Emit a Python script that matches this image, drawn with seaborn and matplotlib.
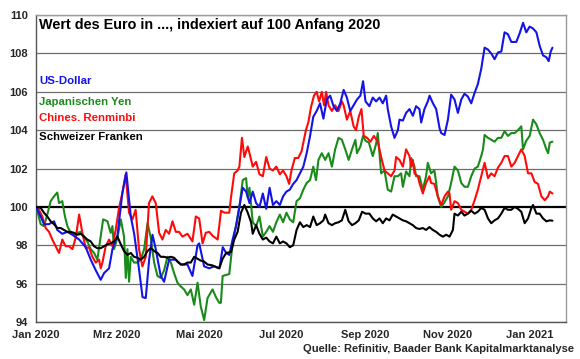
import numpy as np
import pandas as pd
import matplotlib
matplotlib.use("Agg")
import matplotlib.pyplot as plt
import seaborn as sns

# ---- data: (day offset from 1 Jan 2020, index value, start 2020 = 100) ----
usd = [(0, 100), (3.5, 99.5), (6, 99.1), (9.6, 99.1), (13.4, 99.25), (15.8, 98.8), (19.5, 98.6), (23.3, 98.7),
       (27, 98.55), (32, 98.3), (36.9, 97.9), (40.6, 97.25), (44.3, 96.7), (48, 96.2), (50.5, 96.55), (54.2, 96.8),
       (56.7, 97.8), (60.4, 98.5), (64, 100.7), (67, 101.8), (70.3, 99.5), (72.8, 98.6), (76.5, 96.7), (79, 95.3),
       (81.4, 95.25), (83.9, 97.25), (86.4, 98.55), (88.8, 97.8), (92.5, 96.4), (95, 96.1), (98.7, 97.25),
       (103.7, 97.25), (107.4, 97.0), (112.3, 97.0), (116, 96.4), (119.8, 98.0), (121, 98.1), (124.7, 96.9),
       (128.4, 96.8), (132, 96.9), (136, 96.8), (138.5, 97.9), (141, 97.6), (143.3, 97.5), (145.8, 98.3),
       (148.3, 99.0), (150.8, 100.0), (153.3, 101.0), (155.8, 100.8), (158.3, 100.2), (160.7, 100.8),
       (163.2, 100.2), (165.7, 100.0), (168.2, 100.7), (170.7, 99.9), (173.2, 101.0), (175.7, 100.1),
       (178.2, 100.3), (180.8, 100.1), (183.2, 100.55), (185.7, 100.8), (188.2, 100.9), (190.7, 101.2),
       (193.2, 101.4), (195.7, 101.75), (198.2, 102.1), (200.7, 102.8), (203.2, 103.7), (205.6, 104.7),
       (208.1, 105.0), (210.6, 105.4), (213.1, 104.6), (215.6, 105.6), (218.1, 105.8), (220.6, 105.25),
       (223.1, 105.0), (225.6, 105.4), (228.1, 106.1), (230.5, 105.7), (233, 105.0), (235.5, 105.3), (238, 105.6),
       (240.5, 105.8), (242.5, 106.55), (244.3, 105.5), (247.2, 105.25), (249.7, 105.7), (252.2, 105.5),
       (254.7, 105.7), (257.1, 105.4), (259.6, 105.8), (260.8, 105.1), (263.3, 104.2), (265.8, 103.6),
       (268.3, 104.0), (269.5, 104.55), (272, 104.5), (274.4, 104.9), (276.9, 105.1), (279.4, 104.75),
       (281.8, 105.25), (284.3, 105.1), (285.6, 104.4), (288, 105.1), (290.5, 105.5), (291.8, 105.8),
       (294.3, 105.4), (296.7, 105.1), (299.2, 104.1), (300.4, 103.85), (302.9, 103.75), (305.4, 104.55),
       (307.8, 105.85), (310.3, 105.6), (312.8, 104.9), (315.3, 105.6), (317.7, 105.9), (320.2, 105.75),
       (322.7, 105.4), (325.2, 105.95), (327.6, 106.4), (330.1, 107.2), (332.6, 108.3), (335.1, 108.2),
       (337.5, 108.0), (340, 107.7), (342.5, 108.05), (345, 108.1), (347.4, 109.1), (349.9, 109.0),
       (352.4, 108.6), (356.1, 108.6), (358.6, 109.05), (361.1, 109.6), (363.5, 109.1), (366, 109.4),
       (368.5, 109.3), (371, 109.1), (373.4, 108.4), (375.9, 107.9), (378.4, 107.8), (380.1, 107.6),
       (381.6, 108.1), (382.9, 108.3)]

cny = [(0, 100), (2.2, 99.85), (4.7, 99.5), (7.2, 98.9), (9.7, 98.7), (12.1, 98.3), (14.6, 97.95), (17.1, 97.6),
       (19.5, 98.3), (22, 97.95), (24.5, 97.95), (27, 97.8), (29.5, 98.4), (32, 99.6), (34.4, 98.65), (36.9, 97.85),
       (39.3, 97.9), (41.8, 97.4), (44.3, 97.1), (46.8, 97.25), (48, 96.8), (49.3, 97.1), (51.7, 97.95),
       (54.2, 98.3), (56.7, 97.95), (59.1, 98.8), (61.6, 99.95), (64, 100.7), (66.5, 101.7), (69, 99.7),
       (71.5, 99.35), (73.9, 99.85), (76.4, 97.8), (78.9, 96.9), (81.4, 97.4), (83.8, 100.2), (86.3, 100.55),
       (88.8, 100.2), (91.3, 98.65), (93.8, 98.3), (96.2, 98.8), (98.7, 98.6), (101.2, 99.25), (103.7, 98.7),
       (106.1, 98.7), (108.6, 98.45), (112.3, 98.6), (116, 98.2), (118.5, 99.5), (121, 99.4), (123.5, 98.1),
       (125.9, 98.65), (128.4, 98.7), (130.9, 98.5), (134.7, 98.3), (137.2, 99.8), (139.7, 99.7), (143.3, 99.7),
       (144.6, 100.5), (147, 101.75), (149.5, 101.9), (150.8, 102.1), (152.7, 103.6), (154.5, 102.6),
       (157, 103.15), (158.3, 102.8), (160.7, 102.1), (163.2, 102.35), (165.7, 101.7), (168.2, 101.6),
       (170.7, 102.6), (173.2, 102.0), (175.7, 101.9), (178.2, 102.1), (180.8, 101.7), (183.2, 101.9),
       (185.7, 101.6), (187.7, 101.2), (189.4, 101.9), (191.9, 102.55), (194.4, 102.55), (196.9, 102.9),
       (200.1, 104.0), (201.9, 104.4), (203.9, 105.2), (206.1, 105.8), (208.1, 106.0), (209.9, 105.5),
       (211.9, 106.0), (213.6, 105.3), (215.1, 106.0), (216.9, 105.3), (219.4, 105.0), (221.8, 105.3),
       (224.3, 105.0), (226.8, 105.5), (228.1, 105.3), (230.5, 104.55), (233, 105.0), (235.5, 104.2),
       (237.3, 104.0), (239.3, 104.7), (241.3, 105.1), (243, 103.7), (245.5, 103.6), (248, 103.4),
       (250.5, 103.7), (253.4, 103.4), (255.9, 102.6), (258.4, 101.9), (260.8, 101.75), (263.3, 101.6),
       (265.8, 101.9), (267, 102.6), (269.5, 102.45), (272, 102.1), (274.4, 103.0), (276.9, 102.65),
       (278.2, 102.1), (279.4, 102.45), (280.6, 101.75), (283.1, 101.6), (284.3, 101.25), (286.8, 100.7),
       (289.2, 101.25), (291.7, 101.6), (292.9, 101.25), (295.4, 101.2), (297.9, 100.55), (300.4, 100.1),
       (302.9, 100.55), (305.4, 100.8), (306.6, 100.7), (307.8, 99.85), (310.3, 100.3), (312.8, 100.2),
       (315.3, 99.85), (317.7, 99.75), (320.2, 99.65), (322.7, 99.85), (325.2, 100.35), (327.6, 100.9),
       (330.1, 101.6), (332.6, 102.3), (335.1, 101.5), (337.5, 101.75), (340, 101.6), (342.5, 102.05),
       (345, 102.3), (347.4, 102.65), (349.9, 102.65), (352.4, 102.1), (354.9, 102.3), (357.3, 102.65),
       (359.8, 103.0), (362.3, 102.65), (364.8, 101.75), (367.3, 101.75), (369.7, 101.3), (372.2, 101.2),
       (374.7, 100.55), (377.2, 100.35), (379.6, 100.55), (380.9, 100.8), (382.9, 100.7)]

jpy = [(0, 100), (1.7, 99.6), (3.5, 99.1), (5.9, 99.0), (8.4, 99.6), (10.9, 100.3), (13.4, 100.55), (15.8, 100.75),
       (17.1, 100.2), (19.5, 100.3), (21.5, 99.5), (23.3, 99.0), (25.7, 98.65), (28.2, 98.55), (30.7, 98.65),
       (33.2, 98.7), (35.6, 98.45), (38.1, 98.2), (40.6, 97.8), (43.1, 97.6), (45.5, 97.25), (48, 98.45),
       (49.8, 99.35), (53, 99.25), (55.4, 98.65), (56.7, 99.0), (57.9, 97.8), (60.4, 98.4), (62.9, 99.35),
       (65.3, 98.45), (66.6, 96.3), (67.8, 97.8), (69, 96.1), (70.3, 97.4), (72.7, 97.1), (75.2, 97.1),
       (77.7, 97.25), (80.2, 97.8), (82.7, 99.15), (85.1, 98.4), (87.6, 97.1), (90.1, 96.4), (92.5, 96.3),
       (95, 96.7), (97.5, 97.4), (100, 97.1), (102.4, 96.55), (104.9, 96.05), (107.4, 95.85), (109.8, 95.7),
       (112.3, 95.4), (114.8, 95.7), (117.3, 94.9), (119.8, 96.05), (122.2, 94.8), (124.7, 94.1), (127.2, 95.25),
       (130.9, 95.7), (133.4, 95.3), (135.9, 95.0), (137.1, 95.0), (138.4, 96.4), (143.3, 96.5), (145.8, 98.1),
       (148.3, 99.0), (150.8, 100.0), (153.3, 101.4), (155.8, 101.5), (157, 100.5), (158.3, 101.0),
       (160.7, 99.2), (163.2, 99.0), (165.7, 99.5), (168.2, 98.45), (170.7, 98.7), (173.2, 99.0), (175.7, 98.7),
       (178.2, 99.2), (180.8, 99.6), (183.2, 99.2), (185.7, 99.7), (188.2, 99.35), (190.7, 99.2),
       (193.2, 100.3), (195.7, 100.45), (198.2, 100.9), (200.7, 101.25), (203.2, 101.4), (205.6, 102.1),
       (207.6, 101.4), (209.4, 102.45), (211.9, 102.8), (214.4, 102.45), (216.9, 102.8), (219.4, 102.1),
       (221.8, 103.0), (224.3, 103.6), (226.8, 103.5), (229.3, 103.0), (231.8, 102.45), (234.3, 103.0),
       (236.8, 103.5), (238, 102.8), (240.5, 103.15), (242.5, 103.7), (244.3, 103.45), (246.8, 103.35),
       (249.7, 102.65), (252.2, 103.3), (253.4, 103.85), (255.9, 101.75), (258.4, 101.9), (260.8, 100.9),
       (263.3, 100.8), (265.8, 101.6), (268.3, 101.6), (270.7, 101.75), (272, 101.05), (274.4, 101.85),
       (276.9, 101.6), (278.2, 102.55), (280.6, 102.1), (281.8, 101.6), (284.3, 101.6), (286.8, 100.9),
       (289.2, 101.6), (290.5, 102.3), (292.9, 101.75), (295.4, 101.9), (296.7, 101.25), (297.9, 100.55),
       (300.4, 100.0), (302.9, 100.25), (305.4, 100.55), (307.8, 101.25), (310.3, 102.1), (312.8, 101.9),
       (315.3, 101.25), (317.7, 101.05), (320.2, 101.05), (322.7, 101.6), (325.2, 102.0), (327.6, 102.1),
       (330.1, 102.65), (331.4, 103.0), (332.6, 103.75), (335.1, 103.6), (337.5, 103.5), (340, 103.4),
       (342.5, 103.6), (345, 103.6), (347.4, 103.95), (349.9, 103.7), (352.4, 103.85), (354.9, 103.85),
       (357.3, 104.0), (359.8, 104.2), (361.1, 103.0), (363.5, 103.45), (366, 103.7), (368.5, 104.55),
       (371, 104.3), (373.4, 103.85), (375.9, 103.5), (378.4, 103.0), (379.7, 102.8), (380.9, 103.35),
       (382.9, 103.4)]

chf = [(0, 100), (3.5, 99.95), (5.9, 99.7), (8.4, 99.5), (10.9, 99.25), (13.4, 99.1), (15.8, 98.9), (18.3, 98.9),
       (20.8, 98.8), (23.3, 98.7), (25.7, 98.7), (28.2, 98.65), (30.7, 98.55), (33.2, 98.6), (35.6, 98.45),
       (38.1, 98.3), (40.6, 98.2), (43.1, 97.95), (45.5, 97.85), (48, 97.85), (50.5, 97.95), (53, 98.05),
       (55.4, 98.1), (57.9, 98.2), (60.4, 98.45), (62.9, 98.05), (65.3, 97.7), (67.8, 97.5), (70.3, 97.6),
       (72.7, 97.4), (75.2, 97.35), (77.7, 97.25), (80.2, 97.4), (82.7, 97.7), (85.1, 97.85), (87.6, 97.7),
       (90.1, 97.6), (92.5, 97.4), (95, 97.4), (97.5, 97.35), (100, 97.4), (102.4, 97.35), (104.9, 97.15),
       (107.4, 97.0), (109.8, 97.0), (112.3, 97.1), (114.8, 97.1), (117.3, 97.4), (119.8, 97.3), (122.2, 97.2),
       (124.7, 97.15), (127.2, 97.0), (130.9, 96.95), (135.9, 96.8), (138.4, 97.3), (141, 97.6), (144.6, 97.65),
       (147, 98.3), (149.5, 98.7), (152, 99.7), (154.5, 100.1), (157, 99.7), (159.5, 99.2), (160.7, 98.6),
       (163.2, 99.05), (165.7, 98.6), (168.2, 98.3), (170.7, 98.4), (173.2, 98.2), (175.7, 98.1), (178.2, 98.45),
       (180.8, 98.1), (183.2, 98.2), (185.7, 98.1), (188.2, 97.9), (190.7, 98.0), (193.2, 98.8), (195.7, 99.2),
       (198.2, 98.95), (200.7, 99.05), (203.2, 98.95), (205.6, 99.5), (208.1, 99.05), (210.6, 99.15),
       (213.1, 99.3), (214.4, 99.6), (216.9, 99.15), (219.4, 99.05), (221.8, 99.15), (224.3, 99.2),
       (226.8, 99.3), (229.3, 99.85), (231.8, 99.25), (234.3, 99.05), (236.8, 99.15), (239.3, 99.3),
       (241.8, 99.75), (244.3, 99.65), (247.2, 99.65), (249.7, 99.4), (252.2, 99.25), (254.7, 99.4),
       (257.1, 99.15), (259.6, 99.4), (262.1, 99.3), (264.5, 99.6), (267, 99.5), (269.5, 99.4), (272, 99.3),
       (274.4, 99.25), (276.9, 99.15), (279.4, 99.05), (281.8, 98.9), (284.3, 98.85), (286.8, 98.9),
       (289.2, 98.8), (291.7, 98.95), (294.2, 98.8), (296.7, 98.7), (299.2, 98.55), (301.7, 98.45),
       (304.1, 98.55), (306.6, 98.45), (309.1, 98.8), (310.3, 99.65), (312.8, 99.55), (315.3, 99.75),
       (317.7, 99.55), (320.2, 99.65), (322.7, 99.8), (325.2, 99.65), (327.6, 99.75), (330.1, 99.95),
       (332.6, 99.85), (335.1, 99.4), (337.5, 99.15), (340, 99.3), (342.5, 99.4), (345, 99.65), (347.4, 99.95),
       (349.9, 99.85), (352.4, 99.85), (354.9, 100.0), (357.3, 99.9), (359.8, 99.75), (362.3, 99.15),
       (364.8, 99.4), (367.3, 99.95), (368.5, 100.1), (371, 99.65), (373.4, 99.65), (375.9, 99.4),
       (378.4, 99.25), (380.9, 99.3), (382.9, 99.28)]

series_order = ["Japanischen Yen", "Chines. Renminbi", "US-Dollar", "Schweizer Franken"]
series_colors = {"US-Dollar": "#1414e6", "Japanischen Yen": "#1a8a1a",
                 "Chines. Renminbi": "#ff0a0a", "Schweizer Franken": "#000000"}
tick_dates = ["2020-01-01", "2020-03-01", "2020-05-01", "2020-07-01", "2020-09-01", "2020-11-01", "2021-01-01"]
tick_labels = ["Jan 2020", "Mrz 2020", "Mai 2020", "Jul 2020", "Sep 2020", "Nov 2020", "Jan 2021"]
y_ticks = [94, 96, 98, 100, 102, 104, 106, 108, 110]

title = "Wert des Euro in ..., indexiert auf 100 Anfang 2020"
source = "Quelle: Refinitiv, Baader Bank Kapitalmarktanalyse"

start = pd.Timestamp("2020-01-01")
frames = []
for name, pts in [("US-Dollar", usd), ("Japanischen Yen", jpy), ("Chines. Renminbi", cny),
                  ("Schweizer Franken", chf)]:
    d = np.array([p[0] for p in pts], dtype=float)
    v = np.array([p[1] for p in pts], dtype=float)
    frames.append(pd.DataFrame({"date": start + pd.to_timedelta(d, unit="D"), "value": v, "series": name}))
df = pd.concat(frames, ignore_index=True)

sns.set_theme(style="white")
plt.rcParams["font.family"] = ["Liberation Sans", "DejaVu Sans"]

fig = plt.figure(figsize=(5.8, 3.59), dpi=100)
ax = fig.add_axes([0.062, 0.103, 0.914, 0.855])

for gy in y_ticks:
    if gy != 100:
        ax.axhline(gy, color="#6e6e6e", lw=0.9, zorder=1)
ax.axhline(100, color="black", lw=1.6, zorder=2)

for name in series_order:
    sub = df[df["series"] == name]
    sns.lineplot(data=sub, x="date", y="value", ax=ax, color=series_colors[name],
                 lw=1.5, zorder=3, legend=False, estimator=None, sort=False)

ax.set_ylim(94, 110)
ax.set_xlim(start, start + pd.Timedelta(days=393))
ax.set_yticks(y_ticks)
ax.set_yticklabels([str(t) for t in y_ticks], fontsize=8, fontweight="bold")
ax.set_xticks(pd.to_datetime(tick_dates))
ax.set_xticklabels(tick_labels, fontsize=8, fontweight="bold")
ax.tick_params(axis="both", direction="out", length=4, width=0.8, color="#555555", pad=2)
ax.set_xlabel("")
ax.set_ylabel("")
for s in ax.spines.values():
    s.set_color("#9a9a9a")
    s.set_linewidth(1.0)
ax.spines["left"].set_color("#555555")
ax.spines["bottom"].set_color("#555555")

ax.text(0.005, 0.968, title, transform=ax.transAxes, fontsize=10.4, fontweight="bold",
        ha="left", va="center", color="black")
legend_pos = [("US-Dollar", 0.785), ("Japanischen Yen", 0.717), ("Chines. Renminbi", 0.664),
              ("Schweizer Franken", 0.603)]
for name, yy in legend_pos:
    ax.text(0.006, yy, name, transform=ax.transAxes, fontsize=8.2, fontweight="bold",
            ha="left", va="center", color=series_colors[name])

fig.text(0.99, 0.028, source, fontsize=8, fontweight="bold", ha="right", va="center")

fig.savefig("out.png", dpi=100)
